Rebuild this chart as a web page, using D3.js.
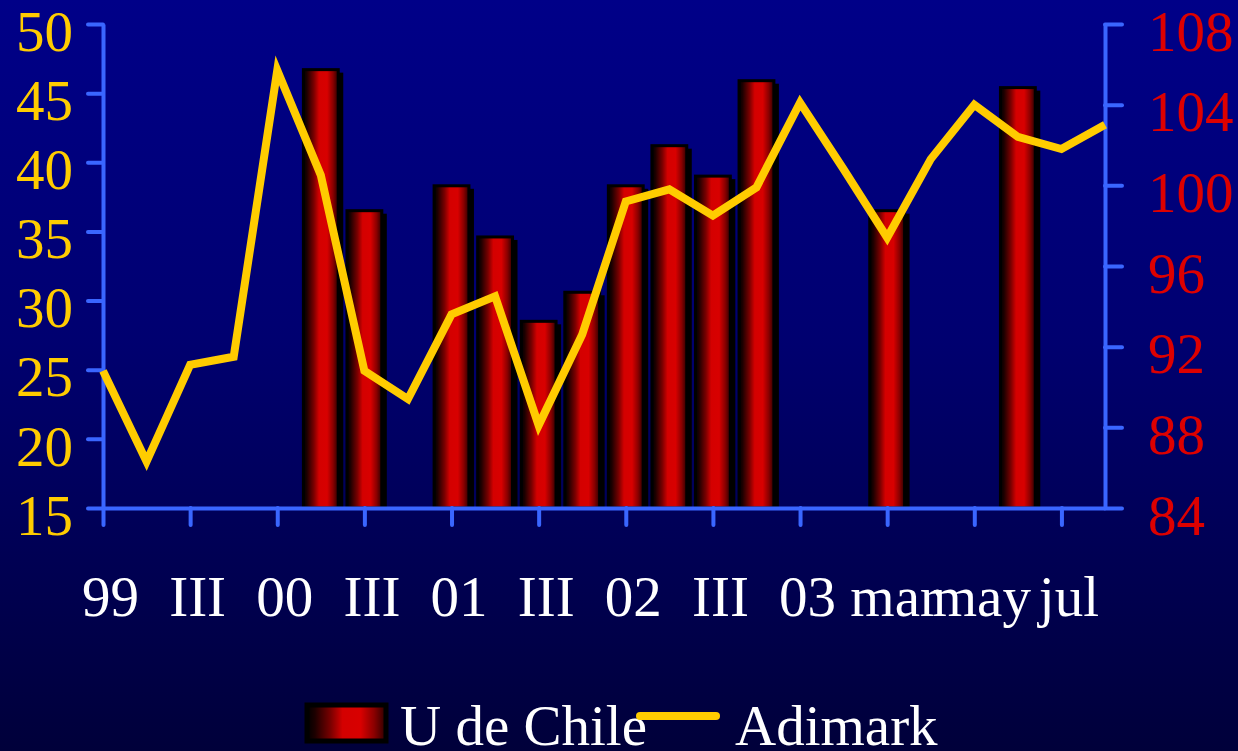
<!DOCTYPE html>
<html>
<head>
<meta charset="utf-8">
<script src="https://cdn.jsdelivr.net/npm/d3@7"></script>
<style>
  html, body { margin: 0; padding: 0; background: #000050; }
  svg { display: block; }
  text { font-family: "Liberation Serif", "Times New Roman", serif; }
</style>
</head>
<body>
<svg id="chart" width="1238" height="751"></svg>
<script>
// Period axis: 24 points, labelled every second point
const periods = [
  "99", "", "III", "", "00", "", "III", "", "01", "", "III", "",
  "02", "", "III", "", "03", "", "mar", "", "may", "", "jul", ""
];

// U de Chile index (left axis), null where no survey was published
const uChile = [
  null, null, null, null, null, 46.7, 36.5, null, 38.3, 34.6, 28.5, 30.6,
  38.3, 41.2, 39.0, 45.9, null, null, 36.5, null, null, 45.4, null, null
];

// Adimark index (right axis)
const adimark = [
  90.8, 86.3, 91.1, 91.5, 105.7, 100.5, 90.8, 89.4, 93.6, 94.5, 88.1, 92.6,
  99.2, 99.8, 98.5, 99.9, 104.1, 100.8, 97.4, 101.3, 104.0, 102.4, 101.8, 103.0
];

const leftTicks = [15, 20, 25, 30, 35, 40, 45, 50];
const rightTicks = [84, 88, 92, 96, 100, 104, 108];

const seriesNames = ["U de Chile", "Adimark"];

const W = 1238, H = 751;
const plot = { left: 103, right: 1105, top: 24, bottom: 508 };
const axisColor = "#3a66ff";
const lineColor = "#ffcc00";
const leftLabelColor = "#ffcc00";
const rightLabelColor = "#dd0000";

const svg = d3.select("#chart");
const defs = svg.append("defs");

// Background: deep blue fading to near-black navy
const bg = defs.append("linearGradient")
  .attr("id", "bg").attr("x1", 0).attr("y1", 0).attr("x2", 0).attr("y2", 1);
bg.append("stop").attr("offset", "0%").attr("stop-color", "#000088");
bg.append("stop").attr("offset", "45%").attr("stop-color", "#000070");
bg.append("stop").attr("offset", "100%").attr("stop-color", "#00003a");

// Cylinder-like shading for the bars
const barGrad = defs.append("linearGradient")
  .attr("id", "barGrad").attr("x1", 0).attr("y1", 0).attr("x2", 1).attr("y2", 0);
[
  [0, "#000000"], [0.1, "#1c0000"], [0.3, "#7a0000"], [0.45, "#d40000"],
  [0.68, "#d80000"], [0.85, "#8a0000"], [1, "#2a0000"]
].forEach(([o, c]) => barGrad.append("stop").attr("offset", o).attr("stop-color", c));

svg.append("rect").attr("width", W).attr("height", H).attr("fill", "url(#bg)");

// Scales
const x = d3.scalePoint()
  .domain(d3.range(periods.length))
  .range([plot.left, plot.right]);
const yL = d3.scaleLinear().domain([15, 50]).range([plot.bottom, plot.top]);
const yR = d3.scaleLinear().domain([84, 108]).range([plot.bottom, plot.top]);

const step = x.step();
const barW = step * 0.8;

// Bars (U de Chile)
const barData = uChile.map((v, i) => ({ i, v })).filter(d => d.v != null);
const bars = svg.append("g");
bars.selectAll("rect.shadow").data(barData).join("rect")
  .attr("class", "shadow")
  .attr("x", d => x(d.i) - barW / 2 + 5)
  .attr("y", d => yL(d.v) + 3)
  .attr("width", barW)
  .attr("height", d => yL(15) - yL(d.v) - 3)
  .attr("fill", "#000000");
bars.selectAll("rect.bar").data(barData).join("rect")
  .attr("class", "bar")
  .attr("x", d => x(d.i) - barW / 2)
  .attr("y", d => yL(d.v))
  .attr("width", barW)
  .attr("height", d => yL(15) - yL(d.v))
  .attr("fill", "url(#barGrad)")
  .attr("stroke", "#000000")
  .attr("stroke-width", 3);

// Axes
function styleAxis(g) {
  g.selectAll("path.domain").attr("stroke", axisColor).attr("stroke-width", 4);
  g.selectAll(".tick line").attr("stroke", axisColor).attr("stroke-width", 4)
    .attr("stroke-linecap", "round");
}

const gL = svg.append("g").attr("transform", `translate(${plot.left},0)`)
  .call(d3.axisLeft(yL).tickValues(leftTicks).tickSizeInner(15).tickSizeOuter(0).tickPadding(15));
styleAxis(gL);
gL.selectAll("text").attr("fill", leftLabelColor).attr("font-size", 57)
  .attr("font-family", "Liberation Serif, serif").attr("dy", "0.46em");

const gR = svg.append("g").attr("transform", `translate(${plot.right},0)`)
  .call(d3.axisRight(yR).tickValues(rightTicks).tickSizeInner(17).tickSizeOuter(0).tickPadding(26));
styleAxis(gR);
gR.selectAll("text").attr("fill", rightLabelColor).attr("font-size", 57)
  .attr("font-family", "Liberation Serif, serif").attr("dy", "0.46em");

const labelled = d3.range(periods.length).filter(i => i % 2 === 0);
const gX = svg.append("g").attr("transform", `translate(0,${plot.bottom})`)
  .call(d3.axisBottom(x).tickValues(labelled).tickSizeInner(17).tickSizeOuter(0)
    .tickFormat(i => periods[i]).tickPadding(0));
styleAxis(gX);
gX.selectAll("text").attr("fill", "#ffffff").attr("font-size", 57)
  .attr("font-family", "Liberation Serif, serif")
  .attr("x", 7).attr("y", 108).attr("dy", 0);

// Adimark line
const line = d3.line().x((d, i) => x(i)).y(d => yR(d));
svg.append("path").datum(adimark)
  .attr("d", line)
  .attr("fill", "none")
  .attr("stroke", lineColor)
  .attr("stroke-width", 8)
  .attr("stroke-linejoin", "miter")
  .attr("stroke-miterlimit", 10);

// Legend
const lg = svg.append("g");
lg.append("rect").attr("x", 307).attr("y", 705).attr("width", 79).attr("height", 36)
  .attr("fill", "url(#barGrad)").attr("stroke", "#000000").attr("stroke-width", 5);
lg.append("text").attr("x", 400).attr("y", 745).attr("fill", "#ffffff")
  .attr("font-size", 57).text(seriesNames[0]);
lg.append("line").attr("x1", 640).attr("x2", 716).attr("y1", 716).attr("y2", 716)
  .attr("stroke", lineColor).attr("stroke-width", 8).attr("stroke-linecap", "round");
lg.append("text").attr("x", 735).attr("y", 745).attr("fill", "#ffffff")
  .attr("font-size", 57).text(seriesNames[1]);
</script>
</body>
</html>
